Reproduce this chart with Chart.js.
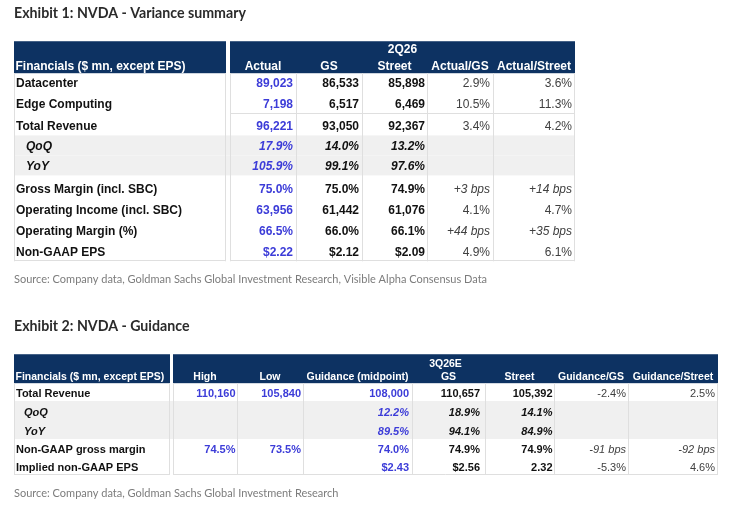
<!DOCTYPE html>
<html><head><meta charset="utf-8">
<script src="https://cdn.jsdelivr.net/npm/chart.js@4.4.1/dist/chart.umd.min.js"></script>
<style>
html,body{margin:0;padding:0;background:#fff;}
body{width:740px;height:505px;overflow:hidden;position:relative;}
.box{position:absolute;left:0;width:740px;}
</style></head><body>
<div class="box" style="top:0;height:300px"><canvas id="ex1"></canvas></div>
<div class="box" style="top:300px;height:205px"><canvas id="ex2"></canvas></div>
<script>
// ---------- Exhibit 1 data ----------
const t1Title = "Exhibit 1: NVDA - Variance summary";
const t1Source = "Source: Company data, Goldman Sachs Global Investment Research, Visible Alpha Consensus Data";
const t1Period = "2Q26";
const t1Columns = ["Financials ($ mn, except EPS)", "Actual", "GS", "Street", "Actual/GS", "Actual/Street"];
const t1Rows = ["Datacenter", "Edge Computing", "Total Revenue", "QoQ", "YoY",
  "Gross Margin (incl. SBC)", "Operating Income (incl. SBC)", "Operating Margin (%)", "Non-GAAP EPS"];
const t1Actual = ["89,023", "7,198", "96,221", "17.9%", "105.9%", "75.0%", "63,956", "66.5%", "$2.22"];
const t1GS = ["86,533", "6,517", "93,050", "14.0%", "99.1%", "75.0%", "61,442", "66.0%", "$2.12"];
const t1Street = ["85,898", "6,469", "92,367", "13.2%", "97.6%", "74.9%", "61,076", "66.1%", "$2.09"];
const t1ActualVsGS = ["2.9%", "10.5%", "3.4%", "", "", "+3 bps", "4.1%", "+44 bps", "4.9%"];
const t1ActualVsStreet = ["3.6%", "11.3%", "4.2%", "", "", "+14 bps", "4.7%", "+35 bps", "6.1%"];
const t1SubRows = [3, 4];

// ---------- Exhibit 2 data ----------
const t2Title = "Exhibit 2: NVDA - Guidance";
const t2Source = "Source: Company data, Goldman Sachs Global Investment Research";
const t2Period = "3Q26E";
const t2Columns = ["Financials ($ mn, except EPS)", "High", "Low", "Guidance (midpoint)", "GS", "Street", "Guidance/GS", "Guidance/Street"];
const t2Rows = ["Total Revenue", "QoQ", "YoY", "Non-GAAP gross margin", "Implied non-GAAP EPS"];
const t2High = ["110,160", "", "", "74.5%", ""];
const t2Low = ["105,840", "", "", "73.5%", ""];
const t2Mid = ["108,000", "12.2%", "89.5%", "74.0%", "$2.43"];
const t2GS = ["110,657", "18.9%", "94.1%", "74.9%", "$2.56"];
const t2Street = ["105,392", "14.1%", "84.9%", "74.9%", "2.32"];
const t2GuideVsGS = ["-2.4%", "", "", "-91 bps", "-5.3%"];
const t2GuideVsStreet = ["2.5%", "", "", "-92 bps", "4.6%"];
const t2SubRows = [1, 2];

// ---------- styles ----------
const NAVY = '#0d3262', BLUE = '#3c3cd8', INK = '#111111', RATIO = '#404040',
      GRID = '#dfdfdf', SHADE = '#f0f0f0';
const TFONT = '"Liberation Sans", Arial, sans-serif';

function cellFont(size, bold, italic) {
  return (italic ? 'italic ' : '') + (bold ? 'bold ' : '') + size + 'px ' + TFONT;
}

function makeTable(canvasId, cfg) {
  const edges = [0];
  cfg.widths.forEach(w => edges.push(edges[edges.length - 1] + w));
  const rowEdges = [0, cfg.headerH];
  cfg.rowHs.forEach(h => rowEdges.push(rowEdges[rowEdges.length - 1] + h));

  const plugin = {
    id: 'tableCells',
    afterDraw(chart) {
      const { ctx, scales: { x, y } } = chart;
      const X = v => x.getPixelForValue(v), Y = v => y.getPixelForValue(v);
      const L = X(0), R = X(edges[edges.length - 1]);
      const T = Y(0), HB = Y(cfg.headerH), B = Y(rowEdges[rowEdges.length - 1]);
      const c0R = X(edges[1]), vL = X(edges[2]);
      ctx.save();
      // shaded sub rows
      ctx.fillStyle = SHADE;
      cfg.rows.forEach((r, i) => {
        if (cfg.subRows.includes(i)) {
          const a = Y(rowEdges[i + 1]), b = Y(rowEdges[i + 2]);
          ctx.fillRect(L, a, R - L, b - a);
        }
      });
      // header bands
      ctx.fillStyle = NAVY;
      ctx.fillRect(L, T, c0R - L, HB - T);
      ctx.fillRect(vL, T, R - vL, HB - T);
      // grid
      ctx.strokeStyle = GRID; ctx.lineWidth = 1;
      const vline = (px, y0, y1) => { const xx = Math.round(px) + 0.5; ctx.beginPath(); ctx.moveTo(xx, y0); ctx.lineTo(xx, y1); ctx.stroke(); };
      const hline = (py, x0, x1) => { const yy = Math.round(py) + 0.5; ctx.beginPath(); ctx.moveTo(x0, yy); ctx.lineTo(x1, yy); ctx.stroke(); };
      vline(L, HB, B); vline(c0R - 1, HB, B); vline(vL, HB, B);
      for (let c = 3; c < edges.length - 1; c++) vline(X(edges[c]), HB, B);
      vline(R - 1, HB, B);
      hline(B - 1, L, c0R); hline(B - 1, vL, R);
      cfg.ruleAfter.forEach(i => hline(Y(rowEdges[i + 2]), vL, R));
      // header text
      ctx.textBaseline = 'alphabetic';
      ctx.fillStyle = '#ffffff';
      ctx.font = cellFont(cfg.headFs, true, false);
      ctx.textAlign = 'left';
      ctx.fillText(cfg.columns[0], L + cfg.headPad, HB - cfg.headBase);
      ctx.textAlign = 'center';
      cfg.columns.slice(1).forEach((c, k) => {
        const a = X(edges[k + 2]), b = X(edges[k + 3]);
        ctx.fillText(c, (a + b) / 2, HB - cfg.headBase);
      });
      ctx.fillText(cfg.period, (vL + R) / 2, HB - cfg.periodBase);
      // body
      cfg.rows.forEach((lab, i) => {
        const base = Y(rowEdges[i + 2]) - cfg.baseOff;
        const sub = cfg.subRows.includes(i);
        ctx.fillStyle = INK;
        ctx.font = cellFont(cfg.fs, true, sub);
        ctx.textAlign = 'left';
        ctx.fillText(lab, L + (sub ? cfg.indent : cfg.labelPad), base);
        cfg.series.forEach((s, k) => {
          const v = s.values[i];
          if (!v) return;
          ctx.fillStyle = s.color;
          ctx.font = cellFont(cfg.fs, s.bold, sub || /bps/.test(v));
          ctx.textAlign = 'right';
          ctx.fillText(v, X(edges[k + 3]) - s.pad, base);
        });
      });
      ctx.restore();
    }
  };

  return new Chart(document.getElementById(canvasId), {
    type: 'scatter',
    data: { datasets: [{ data: [] }] },
    options: {
      responsive: true, maintainAspectRatio: false, animation: false, events: [],
      layout: { padding: cfg.padding },
      scales: {
        x: { type: 'linear', display: false, min: 0, max: edges[edges.length - 1] },
        y: { type: 'linear', display: false, reverse: true, min: 0, max: rowEdges[rowEdges.length - 1] }
      },
      plugins: {
        legend: { display: false },
        tooltip: { enabled: false },
        title: { display: true, text: cfg.title, align: 'start', color: '#2b2b2b',
          font: { family: 'Lato', size: 14.2, weight: 'bold' }, padding: cfg.titlePad },
        subtitle: { display: true, text: cfg.source, position: 'bottom', align: 'start', color: '#7c7c7c',
          font: { family: 'Lato', size: 11, weight: 'normal' }, padding: cfg.sourcePad }
      }
    },
    plugins: [plugin]
  });
}

function build() {
  makeTable('ex1', {
    title: t1Title, source: t1Source, period: t1Period, columns: t1Columns, rows: t1Rows, subRows: t1SubRows,
    widths: [212, 4, 66, 66, 65, 66, 82],
    headerH: 32, rowHs: [19.3, 21, 22, 20, 20, 23, 21, 21, 21],
    padding: { left: 14, right: 165, top: 0, bottom: 14.4 },
    titlePad: { top: 4.6, bottom: 19.6 }, sourcePad: { top: 11.1, bottom: 0 },
    fs: 12, headFs: 12, headPad: 1.5, labelPad: 2, indent: 12, headBase: 3.7, periodBase: 20, baseOff: 5,
    ruleAfter: [1],
    series: [
      { values: t1Actual, color: BLUE, bold: true, pad: 3 },
      { values: t1GS, color: INK, bold: true, pad: 3 },
      { values: t1Street, color: INK, bold: true, pad: 2 },
      { values: t1ActualVsGS, color: RATIO, bold: false, pad: 3 },
      { values: t1ActualVsStreet, color: RATIO, bold: false, pad: 3 }
    ]
  });
  makeTable('ex2', {
    title: t2Title, source: t2Source, period: t2Period, columns: t2Columns, rows: t2Rows, subRows: t2SubRows,
    widths: [156, 3, 64, 66, 109, 73, 69, 74, 90],
    headerH: 29, rowHs: [17.9, 19, 19, 18, 18],
    padding: { left: 14, right: 22, top: 0, bottom: 5.4 },
    titlePad: { top: 17.6, bottom: 19.6 }, sourcePad: { top: 11.5, bottom: 0 },
    fs: 11, headFs: 10.5, headPad: 1.5, labelPad: 2, indent: 10, headBase: 3.1, periodBase: 16, baseOff: 4,
    ruleAfter: [],
    series: [
      { values: t2High, color: BLUE, bold: true, pad: 1.5 },
      { values: t2Low, color: BLUE, bold: true, pad: 2 },
      { values: t2Mid, color: BLUE, bold: true, pad: 3 },
      { values: t2GS, color: INK, bold: true, pad: 5 },
      { values: t2Street, color: INK, bold: true, pad: 1.5 },
      { values: t2GuideVsGS, color: RATIO, bold: false, pad: 2 },
      { values: t2GuideVsStreet, color: RATIO, bold: false, pad: 3 }
    ]
  });
}

const fontLoads = [
  'bold 14px Lato', '11px Lato', 'bold 12px "Liberation Sans"', 'italic bold 12px "Liberation Sans"',
  '12px "Liberation Sans"', 'italic 12px "Liberation Sans"'
].map(f => document.fonts.load(f).catch(() => null));
Promise.all(fontLoads).then(build, build);
</script>
</body></html>
